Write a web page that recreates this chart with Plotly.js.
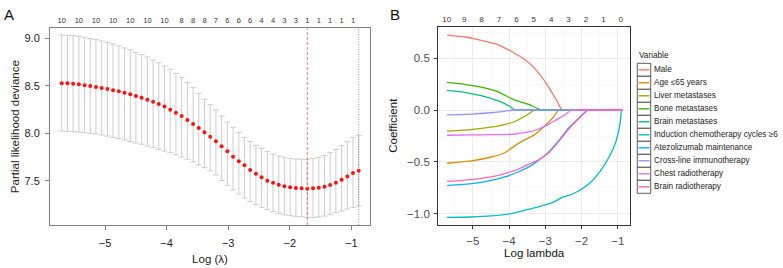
<!DOCTYPE html>
<html><head><meta charset="utf-8">
<script src="https://cdn.plot.ly/plotly-3.0.1.min.js"></script>
<style>html,body{margin:0;padding:0;background:#fff}#chart{width:783px;height:268px}</style>
</head><body><div id="chart"></div>
<script>
// ---------- Panel A: cross-validation ----------
const cvLogLambda = [-5.703,-5.610,-5.518,-5.425,-5.332,-5.239,-5.147,-5.054,-4.961,-4.869,
 -4.776,-4.683,-4.590,-4.498,-4.405,-4.312,-4.219,-4.127,-4.034,-3.941,
 -3.849,-3.756,-3.663,-3.570,-3.478,-3.385,-3.292,-3.199,-3.107,-3.014,
 -2.921,-2.828,-2.736,-2.643,-2.550,-2.458,-2.365,-2.272,-2.179,-2.087,
 -1.994,-1.901,-1.808,-1.716,-1.623,-1.530,-1.437,-1.345,-1.252,-1.159,
 -1.066,-0.974,-0.881];
const cvMean = [8.526,8.526,8.522,8.515,8.504,8.497,8.487,8.476,8.466,8.452,
 8.441,8.427,8.410,8.392,8.374,8.353,8.332,8.308,8.280,8.248,
 8.216,8.181,8.139,8.097,8.055,8.009,7.963,7.914,7.862,7.809,
 7.753,7.704,7.662,7.612,7.574,7.535,7.500,7.479,7.458,7.440,
 7.430,7.423,7.419,7.416,7.419,7.426,7.437,7.454,7.479,7.510,
 7.545,7.581,7.605];
const cvUp = [9.035,9.031,9.028,9.021,9.010,8.996,8.986,8.972,8.958,8.940,
 8.919,8.898,8.877,8.852,8.828,8.803,8.771,8.743,8.708,8.673,
 8.631,8.585,8.532,8.480,8.420,8.357,8.300,8.244,8.181,8.118,
 8.062,8.009,7.956,7.914,7.872,7.841,7.809,7.781,7.760,7.746,
 7.735,7.728,7.725,7.725,7.735,7.746,7.763,7.795,7.830,7.868,
 7.910,7.956,7.977];
const cvLo = [8.023,8.020,8.016,8.013,8.006,7.999,7.992,7.981,7.970,7.956,
 7.942,7.928,7.914,7.897,7.883,7.865,7.848,7.830,7.812,7.795,
 7.774,7.749,7.725,7.697,7.665,7.637,7.605,7.560,7.503,7.451,
 7.401,7.359,7.317,7.279,7.247,7.219,7.194,7.173,7.156,7.141,
 7.131,7.124,7.120,7.113,7.113,7.117,7.127,7.145,7.163,7.180,
 7.201,7.219,7.233];
const nzLabelIdx = [0,3,6,9,12,15,18,21,23,25,27,29,31,33,35,37,39,41,43,45,47,49,51];
const nzLabels = ['10','10','10','10','10','10','10','8','8','8','7','6','6','6','4','4','3','3','1','1','1','1','1'];
const idxMin = 43, idx1se = 52;

// ---------- Panel B: coefficient paths ----------
const variables = ['Male','Age ≤65 years','Liver metastases','Bone metastases','Brain metastases',
 'Induction chemotherapy cycles ≥6','Atezolizumab maintenance','Cross-line immunotherapy',
 'Chest radiotherapy','Brain radiotherapy'];
const varColors = ['#F8766D','#D89000','#A3A500','#39B600','#00BF7D','#00BFC4','#00B0F6','#9590FF','#E76BF3','#FF62BC'];
const lamMale = [-5.712,-5.2,-4.773,-4.317,-3.863,-3.497,-3.224,-2.951,-2.724,-2.54,-2.46,-0.881];
const coefMale = [0.72,0.702,0.670,0.629,0.548,0.467,0.371,0.242,0.113,0,0,0];
const lamAge = [-5.712,-5.047,-4.493,-4.122,-3.845,-3.59,-3.316,-3.04,-2.81,-2.63,-2.55,-0.881];
const coefAge = [-0.512,-0.49,-0.452,-0.411,-0.345,-0.29,-0.242,-0.161,-0.081,0,0,0];
const lamLiver = [-5.712,-5.047,-4.773,-4.317,-3.863,-3.59,-3.3,-3.22,-0.881];
const coefLiver = [-0.204,-0.189,-0.177,-0.155,-0.113,-0.065,0,0,0];
const lamBone = [-5.712,-5.2,-4.773,-4.317,-3.863,-3.497,-3.1,-3.02,-0.881];
const coefBone = [0.265,0.245,0.219,0.177,0.097,0.058,0,0,0];
const lamBrainMet = [-5.712,-5.2,-4.773,-4.317,-4.0,-3.86,-3.78,-0.881];
const coefBrainMet = [0.188,0.168,0.138,0.090,0.039,0,0,0];
const lamInduction = [-5.712,-5.047,-4.493,-3.939,-3.568,-3.2,-2.831,-2.507,-2.3,-2.03,-1.75,-1.476,-1.245,-1.06,-0.98,-0.93,-0.9,-0.881];
const coefInduction = [-1.032,-1.029,-1.019,-0.996,-0.964,-0.932,-0.894,-0.836,-0.815,-0.767,-0.695,-0.583,-0.455,-0.31,-0.2,-0.1,0,0];
const lamAtezo = [-5.712,-5.047,-4.493,-4.122,-3.753,-3.385,-3.2,-2.9,-2.6,-2.35,-2.1,-1.84,-1.76,-0.881];
const coefAtezo = [-0.727,-0.708,-0.676,-0.644,-0.596,-0.532,-0.487,-0.40,-0.28,-0.17,-0.085,0,0,0];
const lamCross = [-5.712,-5.047,-4.6,-4.2,-3.88,-3.8,-0.881];
const coefCross = [-0.047,-0.039,-0.029,-0.015,0,0,0];
const lamChest = [-5.712,-5.047,-4.493,-3.863,-3.5,-3.2,-2.951,-2.7,-2.45,-2.28,-2.2,-0.881];
const coefChest = [-0.243,-0.240,-0.237,-0.233,-0.213,-0.185,-0.145,-0.095,-0.045,0,0,0];
const lamBrainRT = [-5.712,-5.047,-4.493,-4.122,-3.753,-3.385,-3.2,-2.9,-2.6,-2.35,-2.1,-1.82,-1.74,-0.881];
const coefBrainRT = [-0.686,-0.669,-0.644,-0.612,-0.570,-0.510,-0.482,-0.408,-0.29,-0.18,-0.092,0,0,0];
const dfTopPos = [-5.72,-5.24,-4.76,-4.28,-3.80,-3.32,-2.84,-2.36,-1.88,-1.40,-0.92];
const dfTopLabels = ['10','9','8','7','6','5','4','3','2','1','0'];

const pathLam = [lamMale,lamAge,lamLiver,lamBone,lamBrainMet,lamInduction,lamAtezo,lamCross,lamChest,lamBrainRT];
const pathCoef = [coefMale,coefAge,coefLiver,coefBone,coefBrainMet,coefInduction,coefAtezo,coefCross,coefChest,coefBrainRT];

// ---------- build ----------
const W = 783, H = 268;
const px = v => v / W, py = v => 1 - v / H;
const FONT = '"Liberation Sans", Arial, Helvetica, sans-serif';

const traces = [];
traces.push({
  type:'scatter', mode:'markers', x:cvLogLambda, y:cvMean, xaxis:'x', yaxis:'y',
  marker:{color:'#ff1010', size:4},
  error_y:{type:'data', symmetric:false,
    array:cvUp.map((u,i)=>u-cvMean[i]), arrayminus:cvMean.map((m,i)=>m-cvLo[i]),
    color:'#cccccc', thickness:1, width:3},
  showlegend:false, hoverinfo:'skip'
});
traces.push({type:'scatter', mode:'markers', x:[cvLogLambda[0]], y:[cvMean[0]], xaxis:'x2', yaxis:'y',
  marker:{opacity:0}, showlegend:false, hoverinfo:'skip'});
variables.forEach((v,i)=>{
  traces.push({type:'scatter', mode:'lines', name:v, x:pathLam[i], y:pathCoef[i], xaxis:'x3', yaxis:'y3',
    line:{color:varColors[i], width:1.3, shape:'spline', smoothing:0.5}, showlegend:false, hoverinfo:'skip'});
});
traces.push({type:'scatter', mode:'markers', x:[dfTopPos[0]], y:[0], xaxis:'x4', yaxis:'y3',
  marker:{opacity:0}, showlegend:false, hoverinfo:'skip'});

const xRangeA = [-5.893,-0.698];
const xRangeB = [-5.954,-0.666];

const shapes = [
  {type:'line', xref:'x', yref:'y domain', x0:cvLogLambda[idxMin], x1:cvLogLambda[idxMin], y0:0, y1:1,
   line:{color:'#e0473c', width:0.7, dash:'3px,2px'}},
  {type:'line', xref:'x', yref:'y domain', x0:cvLogLambda[idx1se], x1:cvLogLambda[idx1se], y0:0, y1:1,
   line:{color:'#777', width:0.8, dash:'1px,1.5px'}}
];
const annotations = [
  {text:'A', xref:'paper', yref:'paper', x:px(9), y:py(15), showarrow:false, xanchor:'center', yanchor:'middle',
   font:{size:15, color:'#111', family:FONT}},
  {text:'B', xref:'paper', yref:'paper', x:px(395), y:py(15), showarrow:false, xanchor:'center', yanchor:'middle',
   font:{size:15, color:'#111', family:FONT}},
  {text:'Variable', xref:'paper', yref:'paper', x:px(636.5), y:py(55.7), showarrow:false, xanchor:'left', yanchor:'middle',
   font:{size:8.2, color:'#222', family:FONT}}
];
variables.forEach((v,i)=>{
  const yc = 69.8 + 13*i;
  shapes.push({type:'rect', xref:'paper', yref:'paper', x0:px(637.3), x1:px(650.7), y0:py(yc-6.5), y1:py(yc+6.5),
    line:{color:'#333', width:0.8}, fillcolor:'#ffffff'});
  shapes.push({type:'line', xref:'paper', yref:'paper', x0:px(638.6), x1:px(649.4), y0:py(yc), y1:py(yc),
    line:{color:varColors[i], width:1.4}});
  annotations.push({text:v, xref:'paper', yref:'paper', x:px(652), y:py(yc), showarrow:false,
    xanchor:'left', yanchor:'middle', font:{size:8.2, color:'#222', family:FONT}});
});

const layout = {
  width:W, height:H, margin:{l:0,r:0,t:0,b:0}, paper_bgcolor:'#fff', plot_bgcolor:'#fff',
  showlegend:false, font:{family:FONT, color:'#222'},
  xaxis:{domain:[px(50),px(370)], range:xRangeA, anchor:'y', showgrid:false, zeroline:false,
    showline:true, mirror:true, linecolor:'#808080', linewidth:1,
    ticks:'outside', ticklen:4, tickcolor:'#808080', tickvals:[-5,-4,-3,-2,-1],
    tickfont:{size:11, color:'#222'}, ticklabelstandoff:4,
    title:{text:'Log (λ)', font:{size:11.5, color:'#222'}, standoff:6}},
  xaxis2:{overlaying:'x', anchor:'y', side:'top', range:xRangeA, showgrid:false, zeroline:false, showline:false,
    ticks:'', tickvals:nzLabelIdx.map(i=>cvLogLambda[i]), ticktext:nzLabels,
    tickfont:{size:7.5, color:'#333'}, ticklabelstandoff:3},
  yaxis:{domain:[py(225),py(28.3)], range:[7.033,9.105], anchor:'x', showgrid:false, zeroline:false,
    showline:true, mirror:true, linecolor:'#808080', linewidth:1,
    ticks:'outside', ticklen:4, tickcolor:'#808080', tickvals:[7.5,8,8.5,9], ticktext:['7.5','8.0','8.5','9.0'],
    tickfont:{size:11, color:'#222'}, ticklabelstandoff:3,
    title:{text:'Partial likelihood deviance', font:{size:11.5, color:'#222'}, standoff:2}},
  xaxis3:{domain:[px(438.3),px(630)], range:xRangeB, anchor:'y3', tick0:0, dtick:1,
    showgrid:true, gridcolor:'#ebebeb', gridwidth:1, zeroline:false,
    minor:{tick0:0, dtick:0.5, showgrid:true, gridcolor:'#f5f5f5', gridwidth:0.7},
    showline:true, mirror:true, linecolor:'#333', linewidth:1.2,
    ticks:'outside', ticklen:3, tickcolor:'#333', tickfont:{size:11.5, color:'#4d4d4d'}, ticklabelstandoff:2,
    title:{text:'Log lambda', font:{size:11.5, color:'#111'}, standoff:2}},
  xaxis4:{overlaying:'x3', anchor:'y3', side:'top', range:xRangeB, showgrid:false, zeroline:false, showline:false,
    ticks:'', tickvals:dfTopPos, ticktext:dfTopLabels, tickfont:{size:8, color:'#333'}, ticklabelstandoff:2},
  yaxis3:{domain:[py(224.7),py(26.7)], range:[-1.103,0.801], anchor:'x3', tick0:0, dtick:0.5, tickformat:'.1f',
    showgrid:true, gridcolor:'#ebebeb', gridwidth:1, zeroline:false,
    minor:{tick0:0, dtick:0.25, showgrid:true, gridcolor:'#f5f5f5', gridwidth:0.7},
    showline:true, mirror:true, linecolor:'#333', linewidth:1.2,
    ticks:'outside', ticklen:3, tickcolor:'#333', tickfont:{size:11.5, color:'#4d4d4d'}, ticklabelstandoff:2,
    title:{text:'Coefficient', font:{size:11.5, color:'#111'}, standoff:7}},
  shapes:shapes, annotations:annotations
};
Plotly.newPlot('chart', traces, layout, {staticPlot:true, displayModeBar:false});
</script></body></html>
